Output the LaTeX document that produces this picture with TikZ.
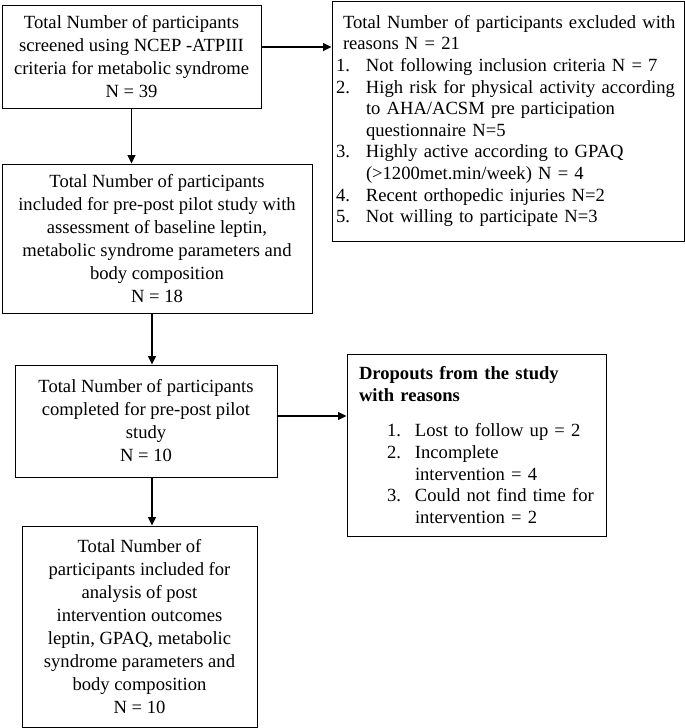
\documentclass[tikz,border=0pt]{standalone}
\usepackage{fontspec}
\setmainfont{Liberation Serif}
\usetikzlibrary{arrows.meta}
\begin{document}
\begin{tikzpicture}[x=1pt,y=-1pt,
  box/.style={draw=black, line width=0.9pt, rectangle, inner sep=0pt,
    font=\fontsize{18.6}{23}\selectfont, align=center},
  listbox/.style={draw=black, line width=0.9pt, rectangle, inner ysep=0pt,
    font=\fontsize{18.6}{21.6}\selectfont, align=left},
  arr/.style={line width=1.3pt, -{Triangle[length=8.5pt,width=8pt]}}
]
\useasboundingbox (0,0) rectangle (685,728);

\node[box, minimum width=259pt, minimum height=103pt] (b1) at (131.5,56.5)
  {Total Number of participants\\screened using NCEP -ATPIII\\criteria for metabolic syndrome\\N = 39};

\node[listbox, inner xsep=4pt, text width=344pt, minimum height=240pt] (b2) at (508,121)
  {\hspace*{7pt}Total Number of participants excluded with\\
   \hspace*{7pt}reasons N = 21\\
   \makebox[30pt][l]{1.}Not following inclusion criteria N = 7\\
   \makebox[30pt][l]{2.}High risk for physical activity according\\
   \hspace*{30pt}to AHA/ACSM pre participation\\
   \hspace*{30pt}questionnaire N=5\\
   \makebox[30pt][l]{3.}Highly active according to GPAQ\\
   \hspace*{30pt}(>1200met.min/week) N = 4\\
   \makebox[30pt][l]{4.}Recent orthopedic injuries N=2\\
   \makebox[30pt][l]{5.}Not willing to participate N=3};

\node[box, minimum width=310pt, minimum height=149pt] (b3) at (157,238.5)
  {Total Number of participants\\included for pre-post pilot study with\\assessment of baseline leptin,\\metabolic syndrome parameters and\\body composition\\N = 18};

\node[box, minimum width=262pt, minimum height=112pt] (b4) at (146,421)
  {Total Number of participants\\completed for pre-post pilot\\study\\N = 10};

\node[listbox, inner xsep=12pt, text width=235pt, minimum height=182pt] (b5) at (476.5,445)
  {\textbf{Dropouts from the study}\\
   \textbf{with reasons}\\[14pt]
   \hspace*{28pt}\makebox[28pt][l]{1.}Lost to follow up = 2\\
   \hspace*{28pt}\makebox[28pt][l]{2.}Incomplete\\
   \hspace*{56pt}intervention = 4\\
   \hspace*{28pt}\makebox[28pt][l]{3.}Could not find time for\\
   \hspace*{56pt}intervention = 2};

\node[box, minimum width=235pt, minimum height=201pt] (b6) at (139.5,626.5)
  {Total Number of\\participants included for\\analysis of post\\intervention outcomes\\leptin, GPAQ, metabolic\\syndrome parameters and\\body composition\\N = 10};

\coordinate (ya) at (0,47);
\coordinate (xc) at (152,0);
\coordinate (yd) at (0,416);

\draw[arr] (b1.east |- ya) -- (b2.west |- ya);
\draw[arr] (b1.south) -- (b1.south |- b3.north);
\draw[arr] (b3.south -| xc) -- (b4.north -| xc);
\draw[arr] (b4.east |- yd) -- (b5.west |- yd);
\draw[arr] (b4.south -| xc) -- (b6.north -| xc);
\end{tikzpicture}
\end{document}
